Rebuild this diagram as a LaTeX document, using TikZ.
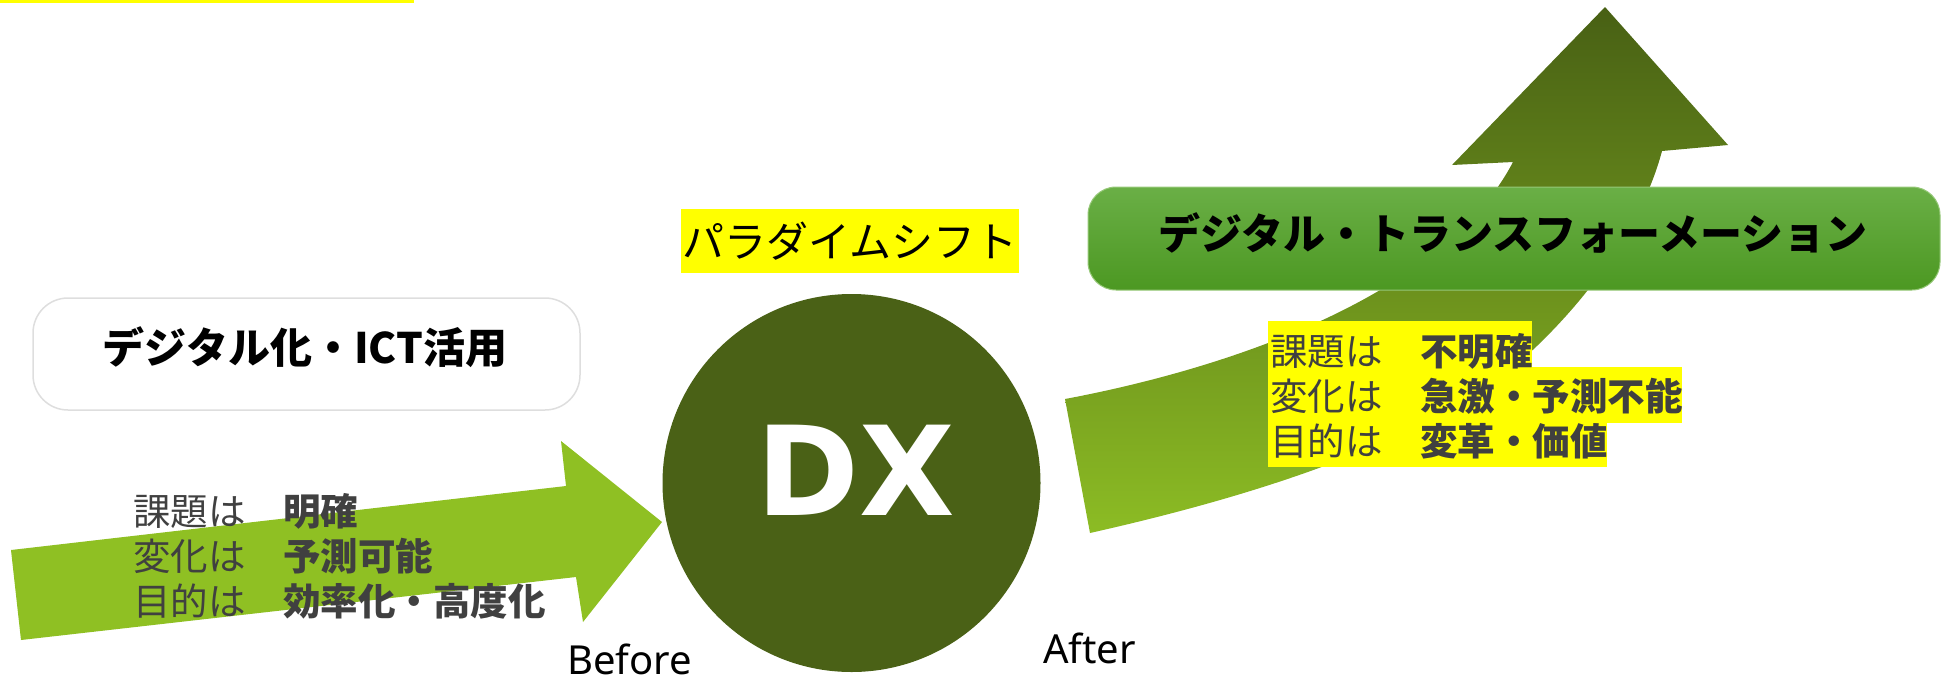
\documentclass[tikz,border=0pt]{standalone}
\usepackage{fontspec}
\newfontfamily\jp{Noto Sans CJK JP}
\newfontfamily\lat{Noto Sans}
\newfontfamily\dxfont{DejaVu Sans}
\definecolor{lgreen}{RGB}{143,192,35}
\definecolor{dxgreen}{RGB}{74,97,22}
\definecolor{tgray}{RGB}{64,64,64}
\definecolor{hl}{RGB}{255,255,0}
\definecolor{atop}{RGB}{72,96,20}
\definecolor{abot}{RGB}{140,188,36}
\definecolor{btop}{RGB}{106,175,70}
\definecolor{bbot}{RGB}{76,152,34}
\definecolor{bline}{RGB}{150,200,120}
\definecolor{gline}{RGB}{222,222,222}
\tikzset{
  lst/.style={anchor=base west, inner sep=0pt, text=tgray, font=\jp\fontsize{37.5}{45}\selectfont},
  ttl/.style={anchor=base, inner sep=0pt, font=\jp\bfseries\fontsize{42}{50}\selectfont},
  lbl/.style={anchor=base west, inner sep=0pt, text depth=0pt, font=\lat\fontsize{40}{48}\selectfont},
  hlbox/.style={fill=hl, draw=none}
}
\begin{document}
\begin{tikzpicture}[x=1pt,y=-1pt]
\useasboundingbox (0,0) rectangle (1946,681);
% top yellow line
\fill[hl] (0,0) rectangle (414,2.5);
% left box
\draw[gline, line width=1.5pt, fill=white, rounded corners=35pt] (33,298) rectangle (580,410);
\node[ttl] (t1) at (305,363.5) {デジタル化・ICT活用};
% left arrow
\fill[lgreen] (11,550) -- (566,486) -- (561,441) -- (662,522) -- (583,622) -- (576,577) -- (21,640) -- cycle;
% DX circle
\node[circle, fill=dxgreen, minimum size=378pt, inner sep=0pt] (dx) at (851.5,483) {};
\node[anchor=base, inner sep=0pt, text=white, font=\dxfont\bfseries\fontsize{124}{130}\selectfont] (dxt) at (856,515) {DX};
% paradigm shift
\fill[hl] (681,209) rectangle (1019,273);
\node[anchor=base, inner sep=0pt, font=\jp\fontsize{42}{50}\selectfont] (ps) at (850,257) {パラダイムシフト};
% right arrow
\shade[top color=atop, bottom color=abot] (1065,399) .. controls (1230,368) and (1443,296) .. (1513,162) -- (1452,165) -- (1605,7) -- (1728,145) -- (1662,151) .. controls (1645,215) and (1600,285) .. (1538,345) .. controls (1440,440) and (1250,497) .. (1090,533) -- cycle;
% green box
\shadedraw[top color=btop, bottom color=bbot, draw=bline, line width=1pt, rounded corners=28pt] (1088,187) rectangle (1940,290);
\node[ttl] (t2) at (1513,249.5) {デジタル・トランスフォーメーション};
% left text
\node[lst] (l1) at (133,525) {課題は　{\bfseries 明確}};
\node[lst] (l2) at (133,570) {変化は　{\bfseries 予測可能}};
\node[lst] (l3) at (133,615) {目的は　{\bfseries 効率化・高度化}};
% right text
\fill[hl] (1268,321) rectangle (1532,367);
\fill[hl] (1268,367) rectangle (1682,423);
\fill[hl] (1268,423) rectangle (1607,467);
\node[lst] (r1) at (1270,365) {課題は　{\bfseries 不明確}};
\node[lst] (r2) at (1270,410) {変化は　{\bfseries 急激・予測不能}};
\node[lst] (r3) at (1270,455) {目的は　{\bfseries 変革・価値}};
% before / after
\node[lbl] (bef) at (567,674) {Before};
\node[lbl] (aft) at (1043,663) {After};
\end{tikzpicture}
\end{document}
